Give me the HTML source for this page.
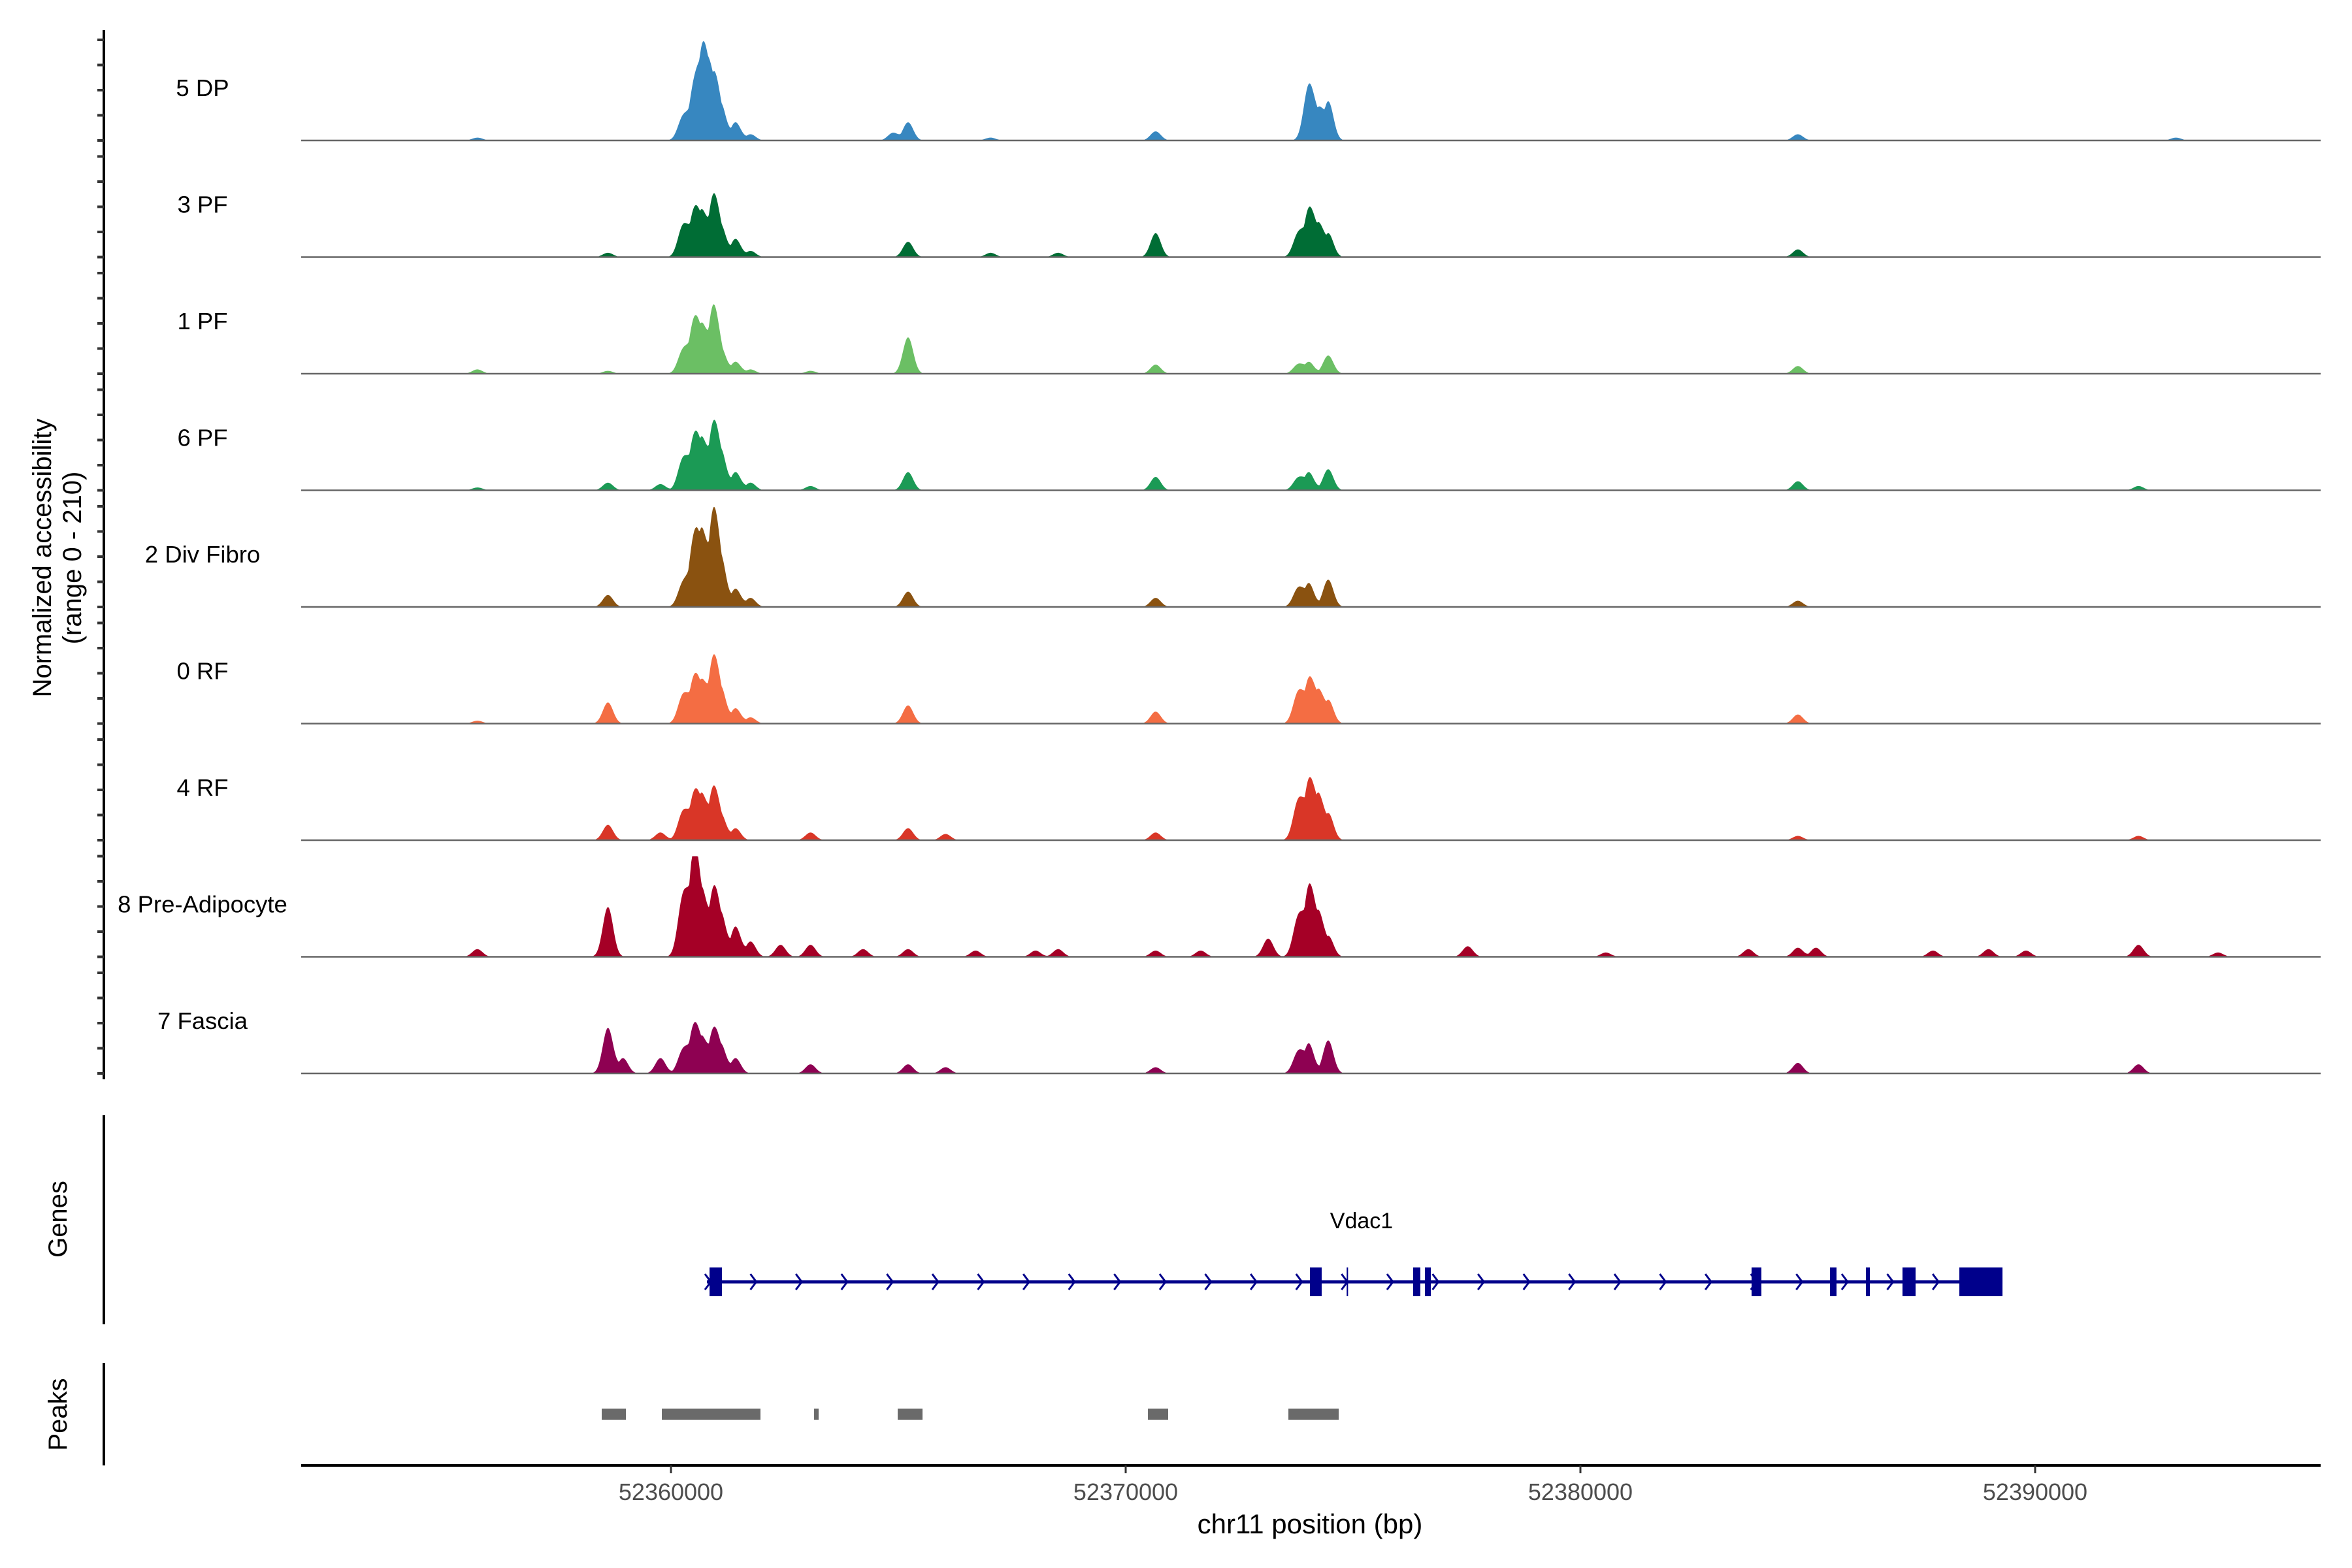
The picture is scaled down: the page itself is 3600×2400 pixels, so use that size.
<!DOCTYPE html>
<html><head><meta charset="utf-8"><style>
html,body{margin:0;padding:0;background:#fff;}
svg{display:block;font-family:"Liberation Sans",sans-serif;}
</style></head><body>
<svg id="chart" width="3600" height="2400" viewBox="0 0 3600 2400" xmlns="http://www.w3.org/2000/svg">
<rect width="3600" height="2400" fill="#fff"/>
<g id="tracks"></g>
<g id="yaxis"></g>
<text transform="translate(78,854) rotate(-90)" text-anchor="middle" font-size="40">Normalized accessibility</text>
<text transform="translate(124,854) rotate(-90)" text-anchor="middle" font-size="40">(range 0 - 210)</text>
<line x1="159" y1="1707" x2="159" y2="2027" stroke="#000" stroke-width="4"/>
<text transform="translate(102,1866) rotate(-90)" text-anchor="middle" font-size="40">Genes</text>
<line x1="159" y1="2086" x2="159" y2="2243" stroke="#000" stroke-width="4"/>
<text transform="translate(102,2165) rotate(-90)" text-anchor="middle" font-size="40">Peaks</text>
<g id="genes"></g>
<g id="peaks"></g>
<g id="xaxis"></g>
<text x="2005" y="2347" text-anchor="middle" font-size="42">chr11 position (bp)</text>
</svg>
<script>
const trackNames=["5 DP","3 PF","1 PF","6 PF","2 Div Fibro","0 RF","4 RF","8 Pre-Adipocyte","7 Fascia"];
const trackColors=["#3787c0","#006d35","#6bbf64","#1b9a55","#8a5210","#f46d43","#d93627","#a50026","#8e0152"];
// peak positions (bp) and heights (0-210 scale), per track
const pos_DP=[52355743,52360264,52360495,52360660,52360759,52360924,52361089,52361419,52361749,52364884,52365214,52367029,52370659,52374025,52374223,52374454,52384783,52393099];
const val_DP=[6,47,95,129,142,126,79,38,13,16,38,6,19,110,63,82,13,6];
const pos_3PF=[52358614,52360264,52360495,52360660,52360924,52361089,52361419,52361749,52365214,52367029,52368514,52370659,52373794,52374025,52374223,52374454,52384783];
const val_3PF=[9,63,82,95,117,69,38,13,32,9,9,50,47,95,69,50,16];
const pos_1PF=[52355743,52358614,52360264,52360495,52360660,52360924,52361089,52361419,52361749,52363069,52365214,52370659,52373794,52374025,52374454,52384783];
const val_1PF=[9,6,47,95,101,132,57,25,9,6,76,19,19,25,38,16];
const pos_6PF=[52355743,52358614,52359769,52360264,52360495,52360660,52360924,52361089,52361419,52361749,52363069,52365214,52370659,52373794,52374025,52374454,52384783,52392274];
const val_6PF=[6,16,13,63,95,107,126,88,38,16,9,38,28,25,38,44,19,9];
const pos_DF=[52358614,52360264,52360495,52360660,52360924,52361089,52361419,52361749,52365214,52370659,52373794,52374025,52374454,52384783];
const val_DF=[25,47,120,158,183,110,38,19,32,19,38,50,57,13];
const pos_0RF=[52355743,52358614,52360264,52360495,52360660,52360924,52361089,52361419,52361749,52365214,52370659,52373794,52374025,52374223,52374454,52384783];
const val_0RF=[6,44,57,82,88,126,79,32,13,38,25,63,88,69,50,19];
const pos_4RF=[52358614,52359769,52360264,52360495,52360660,52360924,52361089,52361419,52363069,52365214,52366039,52370659,52373794,52374025,52374223,52374454,52384783,52392274];
const val_4RF=[32,16,57,82,95,101,57,25,16,25,13,16,79,117,95,57,9,9];
const pos_PA=[52355743,52358614,52360264,52360495,52360660,52360924,52361089,52361419,52361749,52362409,52363069,52364224,52365214,52366699,52368019,52368514,52370659,52371649,52373134,52373794,52374025,52374223,52374454,52377523,52380559,52383694,52384783,52385179,52387753,52388974,52389799,52392274,52394023];
const val_PA=[16,104,120,202,142,126,95,63,32,25,25,16,16,13,13,16,13,13,38,79,139,95,44,22,9,16,19,19,13,16,13,25,9];
const pos_FA=[52358614,52358944,52359769,52360264,52360495,52360660,52360924,52361089,52361419,52363069,52365214,52366039,52370659,52373794,52374025,52374454,52384783,52392274];
const val_FA=[95,32,32,47,88,76,82,63,32,19,19,13,13,44,63,69,22,19];
const trackPos=[pos_DP,pos_3PF,pos_1PF,pos_6PF,pos_DF,pos_0RF,pos_4RF,pos_PA,pos_FA];
const trackVals=[val_DP,val_3PF,val_1PF,val_6PF,val_DF,val_0RF,val_4RF,val_PA,val_FA];
const xTicks=[52360000,52370000,52380000,52390000];
const xTickLabels=["52360000","52370000","52380000","52390000"];
const geneLine=[52360790,52389282];
const exonStarts=[52360848,52374052,52374860,52376322,52376580,52383764,52385489,52386279,52387083,52388333];
const exonEnds=[52361121,52374310,52374890,52376480,52376710,52383980,52385632,52386365,52387371,52389282];
const peakStarts=[52358477,52359799,52363147,52364986,52370489,52373578];
const peakEnds=[52359009,52361968,52363247,52365532,52370934,52374684];

const NS="http://www.w3.org/2000/svg";
const X0=461,X1=3552;
function xs(bp){return 1027+(bp-52360000)*0.0696;}
function bpOf(x){return 52360000+(x-1027)/0.0696;}
const base0=215,step=178.5,hmax=154,vmax=210;
function ys(v){return v/vmax*hmax;}
function mk(tag,attrs,parent){const e=document.createElementNS(NS,tag);for(const k in attrs)e.setAttribute(k,attrs[k]);parent.appendChild(e);return e;}
const tracks=document.getElementById('tracks');
const yaxis=document.getElementById('yaxis');
const ax=mk('line',{x1:159,y1:46,x2:159,y2:1652,stroke:'#000','stroke-width':4},yaxis);


for(let t=0;t<trackNames.length;t++){
  const b=base0+t*step;
  const g=mk('g',{},tracks);
  
  
  const P=trackPos[t],V=trackVals[t];
  let d='M'+X0+','+b;
  for(let x=X0;x<=X1;x+=1.5){
    const bp=bpOf(x);let v=0;
    for(let i=0;i<P.length;i++){const z=(bp-P[i])/160;const k=V[i]*Math.exp(-z*z);v+=k*0.6;if(k>v)v=k;}
    if(v>0&&v<1.5)v=0;
    d+=' L'+x.toFixed(1)+','+(b-ys(Math.min(v,210))).toFixed(1);
  }
  d+=' L'+X1+','+b+' Z';
  const p=mk('path',{d:d,fill:trackColors[t]},g);
  
  
  const l=mk('line',{x1:X0,y1:b,x2:X1,y2:b,stroke:'#666','stroke-width':2.5},g);
  
  
  const lab=mk('text',{x:310,y:b-68,'text-anchor':'middle','font-size':36.5},g);
  lab.textContent=trackNames[t];
  
  
  for(let k=0;k<5;k++){
    const ty=b-154+k*38.5;
    const tk=mk('line',{x1:149,y1:ty,x2:159,y2:ty,stroke:'#333','stroke-width':4},yaxis);
    
    
  }
}
// gene
const genes=document.getElementById('genes');
const gy=1962;
const gl=mk('line',{x1:xs(geneLine[0]),y1:gy,x2:xs(geneLine[1]),y2:gy,stroke:'#00008b','stroke-width':5},genes);


for(let x=xs(geneLine[0])+2;x<xs(geneLine[1])-40;x+=69.6){
  const a=mk('path',{d:`M${x-5},${gy-12} L${x+4},${gy} L${x-5},${gy+12}`,fill:'none',stroke:'#00008b','stroke-width':3},genes);
  
  
}
for(let i=0;i<exonStarts.length;i++){
  const x1=xs(exonStarts[i]),x2=xs(exonEnds[i]);
  const r=mk('rect',{x:x1,y:gy-22,width:Math.max(2,x2-x1),height:44,fill:'#00008b'},genes);
  
  
}
const gn=mk('text',{x:2084,y:1880,'text-anchor':'middle','font-size':34},genes);
gn.textContent='Vdac1';


// peaks
const peaks=document.getElementById('peaks');
for(let i=0;i<peakStarts.length;i++){
  const x1=xs(peakStarts[i]),x2=xs(peakEnds[i]);
  const r=mk('rect',{x:x1,y:2156,width:x2-x1,height:17,fill:'#6a6a6a'},peaks);
  
  
}
// x axis
const xa=document.getElementById('xaxis');
const xl=mk('line',{x1:X0,y1:2243,x2:X1,y2:2243,stroke:'#000','stroke-width':4},xa);


for(let i=0;i<xTicks.length;i++){
  const x=xs(xTicks[i]);
  const tk=mk('line',{x1:x,y1:2243,x2:x,y2:2255,stroke:'#333','stroke-width':3},xa);
  
  
  const tl=mk('text',{x:x,y:2296,'text-anchor':'middle','font-size':36,fill:'#4d4d4d'},xa);
  tl.textContent=xTickLabels[i];
  
  
}
</script>
</body></html>
